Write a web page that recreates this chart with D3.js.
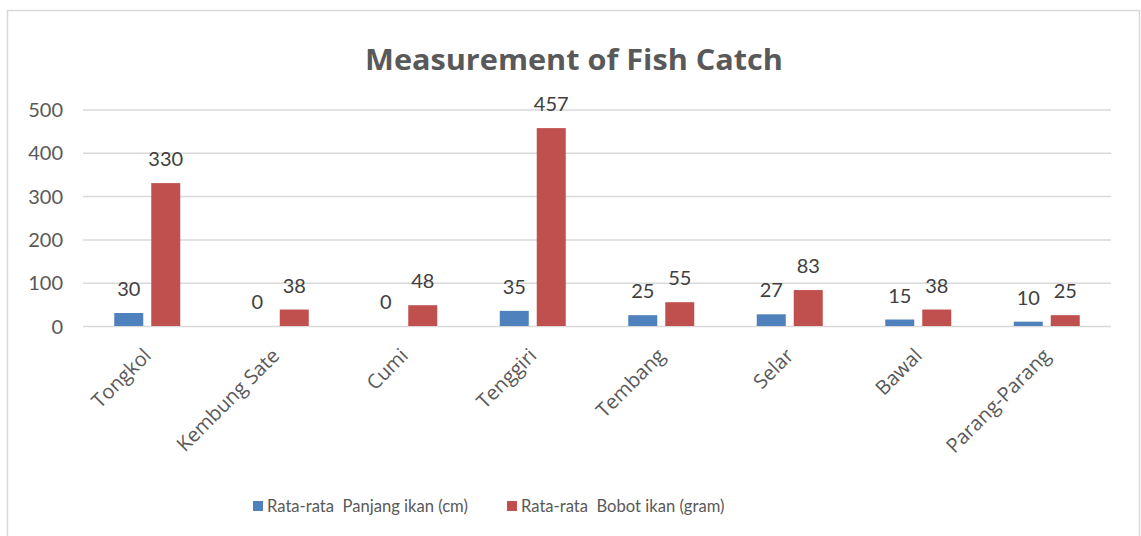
<!DOCTYPE html>
<html><head><meta charset="utf-8">
<script src="https://cdn.jsdelivr.net/npm/d3@7"></script>
<style>body{margin:0;background:#fff;} text{font-family:Lato,"Open Sans",sans-serif;}</style>
</head><body>
<svg id="c" width="1141" height="536"></svg>
<script>
const categories = ["Tongkol","Kembung Sate","Cumi","Tenggiri","Tembang","Selar","Bawal","Parang-Parang"];
const panjang = [30,0,0,35,25,27,15,10];
const bobot = [330,38,48,457,55,83,38,25];
const seriesNames = ["Rata-rata  Panjang ikan (cm)","Rata-rata  Bobot ikan (gram)"];
const colors = ["#4F81BD","#C0504D"];
const yTicks = [0,100,200,300,400,500];

const svg = d3.select("#c");
const txt = "#595959";
svg.append("rect").attr("x",7.5).attr("y",10.5).attr("width",1132).attr("height",540)
  .attr("fill","#fff").attr("stroke","#D9D9D9").attr("stroke-width",1.5);

const x = d3.scaleBand().domain(categories).range([83,1111]);
const y = d3.scaleLinear().domain([0,500]).range([326,109.5]);

svg.append("text").attr("x",574).attr("y",70).attr("text-anchor","middle")
  .style("font-family","'Open Sans'").attr("font-size",29).attr("font-weight","bold").attr("fill",txt)
  .attr("textLength",418).attr("lengthAdjust","spacingAndGlyphs")
  .text("Measurement of Fish Catch");

const yAxis = d3.axisLeft(y).tickValues(yTicks).tickSize(-(1111-83)).tickPadding(20);
const ga = svg.append("g").attr("transform","translate(83,0)").call(yAxis);
ga.select(".domain").remove();
ga.selectAll(".tick line").attr("stroke","#D9D9D9").attr("stroke-width",1.5);
ga.selectAll(".tick text").attr("font-size",20).attr("fill",txt).attr("font-family","Lato").attr("dy","0.35em");

const bw = 29, gap = 8;
const series = [panjang, bobot];
series.forEach((vals,si)=>{
  const off = si===0 ? -(gap/2+bw) : gap/2;
  const g = svg.append("g");
  g.selectAll("rect").data(categories).join("rect")
    .attr("x",d=>x(d)+x.bandwidth()/2+off)
    .attr("y",(d,i)=>y(vals[i]))
    .attr("width",bw)
    .attr("height",(d,i)=>y(0)-y(vals[i]))
    .attr("fill",colors[si]);
  g.selectAll("text").data(categories).join("text")
    .attr("x",d=>x(d)+x.bandwidth()/2+off+bw/2)
    .attr("y",(d,i)=>y(vals[i])-17)
    .attr("text-anchor","middle").attr("font-size",20).attr("fill","#404040")
    .text((d,i)=>vals[i]);
});

// category labels
svg.append("g").selectAll("text").data(categories).join("text")
  .attr("transform",d=>`translate(${x(d)+x.bandwidth()/2+5},${357}) rotate(-45)`)
  .attr("text-anchor","end").style("font-family","'Open Sans'").attr("font-size",20).attr("fill",txt).text(d=>d);

// legend
const leg = [{x:253,t:seriesNames[0],c:colors[0]},{x:507,t:seriesNames[1],c:colors[1]}];
leg.forEach(l=>{
  svg.append("rect").attr("x",l.x).attr("y",501).attr("width",10).attr("height",10).attr("fill",l.c);
  svg.append("text").attr("x",l.x+14).attr("y",512).attr("font-size",16.6).attr("fill",txt)
    .attr("xml:space","preserve").style("white-space","pre").text(l.t);
});
</script>
</body></html>
